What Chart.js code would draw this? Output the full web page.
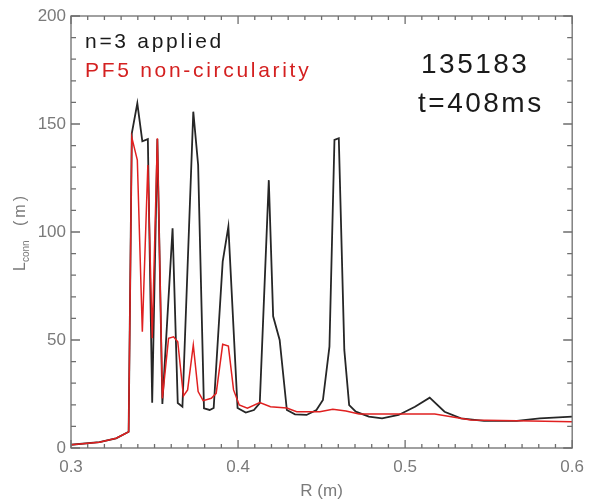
<!DOCTYPE html>
<html>
<head>
<meta charset="utf-8">
<script src="https://cdn.jsdelivr.net/npm/chart.js@4/dist/chart.umd.min.js"></script>
<style>
  body { margin: 0; background: #fff; }
  #wrap { width: 593px; height: 503px; }
</style>
</head>
<body>
<div id="wrap"><canvas id="chart" width="593" height="503"></canvas></div>
<script>
// R (m) and L_conn (m)
const blackR = [0.300, 0.317, 0.327, 0.332, 0.3345, 0.3364, 0.3397, 0.3427, 0.346, 0.3486, 0.3517, 0.3547,
  0.3608, 0.3639, 0.3667, 0.3732, 0.3761, 0.3796, 0.383, 0.3854, 0.3908, 0.3942, 0.3997, 0.4046, 0.4095,
  0.413, 0.4184, 0.421, 0.4249, 0.4292, 0.4341, 0.441, 0.4469, 0.4508, 0.4547, 0.4577, 0.4603, 0.4636,
  0.4665, 0.4705, 0.4783, 0.4862, 0.4961, 0.5059, 0.5147, 0.5236, 0.5334, 0.5472, 0.5669, 0.5806, 0.600];
const blackL = [1.5, 2.7, 4.5, 6.5, 7.5, 145.7, 159.6, 142, 143, 21, 143, 20.4,
  101.7, 20.8, 19.1, 155.7, 131, 18.4, 17.6, 18.5, 86.3, 102.5, 18.5, 16.4, 17.6,
  20.8, 124, 61, 50, 17.6, 15.6, 15.3, 17.6, 22.2, 46.9, 142.6, 143.4, 45.4,
  19.9, 16.8, 14.5, 13.7, 15.3, 19.1, 23.3, 16.8, 13.7, 12.6, 12.6, 13.7, 14.5];

const redR = [0.300, 0.317, 0.327, 0.332, 0.3345, 0.3364, 0.3397, 0.3427, 0.346, 0.3486, 0.3517, 0.3547,
  0.3584, 0.3614, 0.3639, 0.3673, 0.3698, 0.3732, 0.3761, 0.3791, 0.384, 0.3869, 0.3908, 0.3942, 0.3973,
  0.4007, 0.4056, 0.413, 0.4194, 0.4292, 0.4351, 0.4489, 0.4567, 0.4646, 0.4724, 0.4882, 0.5177, 0.5393,
  0.5669, 0.600];
const redL = [1.5, 2.7, 4.5, 6.5, 7.5, 143.8, 133.3, 53.8, 131, 50.8, 143.4, 23,
  50.8, 51.5, 49.2, 24.1, 26.9, 47.7, 26.1, 21.9, 23, 25.3, 48, 47.2, 26.9,
  19.9, 18.4, 21, 19.1, 18.5, 16.8, 16.8, 17.9, 17.1, 15.7, 15.7, 15.7, 13,
  12.6, 12.2];

const xMajor = [0.3, 0.4, 0.5, 0.6];
const yMajor = [0, 50, 100, 150, 200];

const axisGray = '#6e6e6e';
const labelGray = '#7a7a7a';

function toPoints(xs, ys) {
    return xs.map((x, i) => ({ x: x, y: ys[i] }));
}

function isMajor(v, list) {
    return list.some(m => Math.abs(m - v) < 1e-6);
}

// inward ticks on all four sides, plus y title and annotations
const framePlugin = {
    id: 'frame',
    afterDraw(chart) {
        const ctx = chart.ctx;
        const a = chart.chartArea;
        const xs = chart.scales.x;
        const ys = chart.scales.y;
        ctx.save();
        ctx.strokeStyle = axisGray;
        ctx.lineWidth = 1.3;
        ctx.strokeRect(a.left, a.top, a.right - a.left, a.bottom - a.top);

        xs.ticks.forEach(t => {
            const px = xs.getPixelForValue(t.value);
            const len = isMajor(t.value, xMajor) ? 8 : 4;
            ctx.beginPath();
            ctx.moveTo(px, a.bottom); ctx.lineTo(px, a.bottom - len);
            ctx.moveTo(px, a.top); ctx.lineTo(px, a.top + len);
            ctx.stroke();
        });
        ys.ticks.forEach(t => {
            const py = ys.getPixelForValue(t.value);
            const len = isMajor(t.value, yMajor) ? 9 : 5;
            ctx.beginPath();
            ctx.moveTo(a.left, py); ctx.lineTo(a.left + len, py);
            ctx.moveTo(a.right, py); ctx.lineTo(a.right - len, py);
            ctx.stroke();
        });

        // y axis title L_conn (m)
        ctx.translate(25, 271);
        ctx.rotate(-Math.PI / 2);
        ctx.fillStyle = labelGray;
        ctx.textBaseline = 'alphabetic';
        ctx.textAlign = 'left';
        ctx.font = '16px "Liberation Sans", Arial, sans-serif';
        ctx.fillText('L', 0, 0);
        let w = ctx.measureText('L').width;
        ctx.font = '10px "Liberation Sans", Arial, sans-serif';
        ctx.fillText('conn', w, 4);
        ctx.font = '16px "Liberation Sans", Arial, sans-serif';
        ctx.letterSpacing = '3px';
        ctx.fillText('(m)', 45, 0);
        ctx.restore();

        // annotations
        ctx.save();
        ctx.textAlign = 'left';
        ctx.textBaseline = 'alphabetic';
        ctx.font = '21px "Liberation Sans", Arial, sans-serif';
        ctx.letterSpacing = '2.7px';
        ctx.fillStyle = '#1a1a1a';
        ctx.fillText('n=3 applied', 85, 48);
        ctx.fillStyle = '#d42020';
        ctx.fillText('PF5 non-circularity', 85, 77);
        ctx.font = '28px "Liberation Sans", Arial, sans-serif';
        ctx.letterSpacing = '2.5px';
        ctx.fillStyle = '#1a1a1a';
        ctx.fillText('135183', 421, 73);
        ctx.fillText('t=408ms', 418, 112);
        ctx.restore();
    }
};

const ctx = document.getElementById('chart').getContext('2d');
new Chart(ctx, {
    type: 'line',
    data: {
        datasets: [
            {
                label: 'PF5 non-circularity',
                data: toPoints(redR, redL),
                borderColor: '#e02020',
                borderWidth: 1.5,
                pointRadius: 0,
                tension: 0,
                fill: false
            },
            {
                label: 'n=3 applied',
                data: toPoints(blackR, blackL),
                borderColor: '#262626',
                borderWidth: 1.8,
                pointRadius: 0,
                tension: 0,
                fill: false
            }
        ]
    },
    options: {
        responsive: false,
        animation: false,
        layout: { padding: { left: 0, right: 14, top: 16, bottom: 0 } },
        plugins: {
            legend: { display: false },
            tooltip: { enabled: false }
        },
        scales: {
            x: {
                type: 'linear',
                min: 0.3,
                max: 0.6,
                grid: { display: false, drawTicks: false },
                border: { display: false },
                ticks: {
                    stepSize: 0.01,
                    autoSkip: false,
                    maxRotation: 0,
                    padding: 9,
                    color: labelGray,
                    font: { family: '"Liberation Sans", Arial, sans-serif', size: 17 },
                    callback: v => isMajor(v, xMajor) ? v.toFixed(1) : ''
                },
                title: {
                    display: true,
                    text: 'R (m)',
                    color: labelGray,
                    font: { family: '"Liberation Sans", Arial, sans-serif', size: 17 },
                    padding: { top: 0, bottom: 1 }
                },
                afterFit: s => { s.height = 55; }
            },
            y: {
                min: 0,
                max: 200,
                grid: { display: false, drawTicks: false },
                border: { display: false },
                ticks: {
                    stepSize: 10,
                    autoSkip: false,
                    padding: 5,
                    color: labelGray,
                    font: { family: '"Liberation Sans", Arial, sans-serif', size: 17 },
                    callback: v => isMajor(v, yMajor) ? String(v) : ''
                },
                afterFit: s => { s.width = 71; }
            }
        }
    },
    plugins: [framePlugin]
});
</script>
</body>
</html>
